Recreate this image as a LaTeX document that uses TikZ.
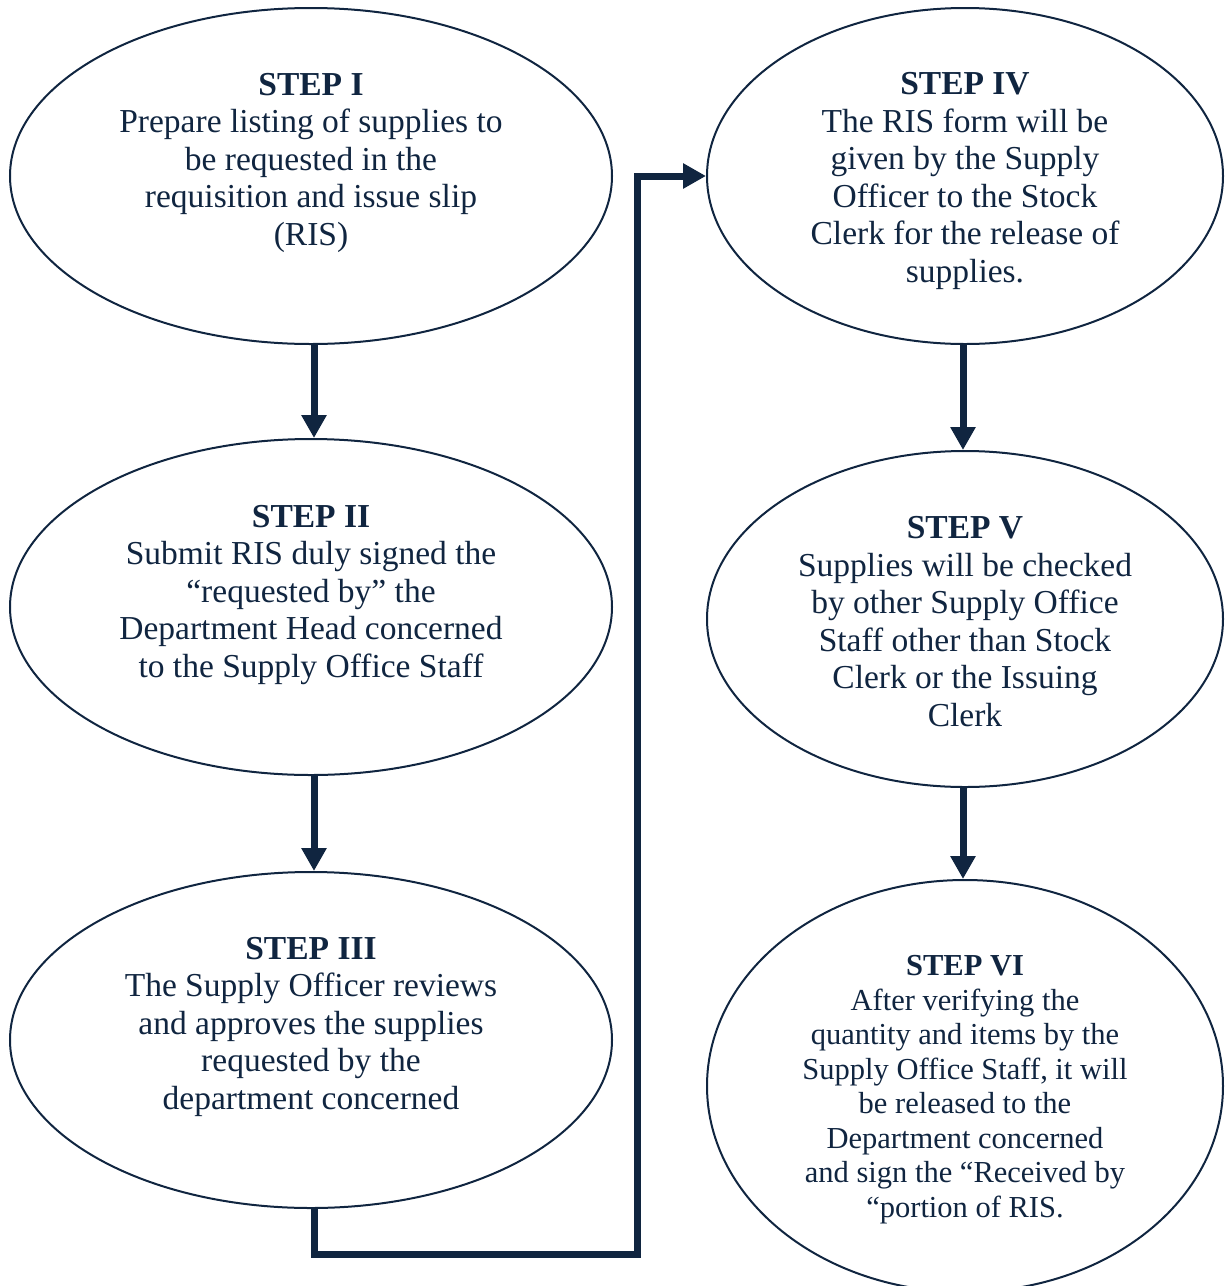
\documentclass[tikz,border=0pt]{standalone}
\usepackage{fontspec}
\setmainfont{Liberation Serif}
\usetikzlibrary{shapes.geometric,arrows.meta,calc}
\definecolor{navy}{RGB}{16,37,64}
\begin{document}
\begin{tikzpicture}[x=1pt,y=-1pt,
  stepshape/.style={ellipse,draw=navy,line width=2pt,inner sep=0pt},
  steptext/.style={text=navy,align=center,font=\fontsize{33.5}{37.5}\selectfont},
  smalltext/.style={text=navy,align=center,font=\fontsize{30.5}{34.5}\selectfont},
  flow/.style={draw=navy,line width=7pt,-{Triangle[length=23pt,width=24pt]}}]
\useasboundingbox (0,0) rectangle (1225,1286);
% left column
\node[stepshape,minimum width=602pt,minimum height=336pt] (e1) at (311,176) {};
\node[stepshape,minimum width=602pt,minimum height=336pt] (e2) at (311,607) {};
\node[stepshape,minimum width=602pt,minimum height=336pt] (e3) at (311,1040) {};
% right column
\node[stepshape,minimum width=516pt,minimum height=336pt] (e4) at (965,176) {};
\node[stepshape,minimum width=516pt,minimum height=336pt] (e5) at (965,619) {};
\node[stepshape,minimum width=516pt,minimum height=412pt] (e6) at (965,1086) {};
% step texts (anchored at the baseline of their last line)
\node[steptext,anchor=base] (t1) at (311,245) {\textbf{STEP I}\\Prepare listing of supplies to\\be requested in the\\requisition and issue slip\\(RIS)};
\node[steptext,anchor=base] (t2) at (311,677) {\textbf{STEP II}\\Submit RIS duly signed the\\“requested by” the\\Department Head concerned\\to the Supply Office Staff};
\node[steptext,anchor=base] (t3) at (311,1109) {\textbf{STEP III}\\The Supply Officer reviews\\and approves the supplies\\requested by the\\department concerned};
\node[steptext,anchor=base] (t4) at (965,282) {\textbf{STEP IV}\\The RIS form will be\\given by the Supply\\Officer to the Stock\\Clerk for the release of\\supplies.};
\node[steptext,anchor=base] (t5) at (965,726) {\textbf{STEP V}\\Supplies will be checked\\by other Supply Office\\Staff other than Stock\\Clerk or the Issuing\\Clerk};
\node[smalltext,anchor=base] (t6) at (965,1217) {\textbf{STEP VI}\\After verifying the\\quantity and items by the\\Supply Office Staff, it will\\be released to the\\Department concerned\\and sign the “Received by\\“portion of RIS.};
% connectors
\coordinate (c1) at (637,1254);
\draw[flow] ($(e1.south)+(3,0)$) -- ($(e2.north)+(3,0)$);
\draw[flow] ($(e2.south)+(3,0)$) -- ($(e3.north)+(3,0)$);
\draw[flow] ($(e3.south)+(3,0)$) |- (c1) |- (e4.west);
\draw[flow] ($(e4.south)+(-2,0)$) -- ($(e5.north)+(-2,0)$);
\draw[flow] ($(e5.south)+(-2,0)$) -- ($(e6.north)+(-2,0)$);
\end{tikzpicture}
\end{document}
